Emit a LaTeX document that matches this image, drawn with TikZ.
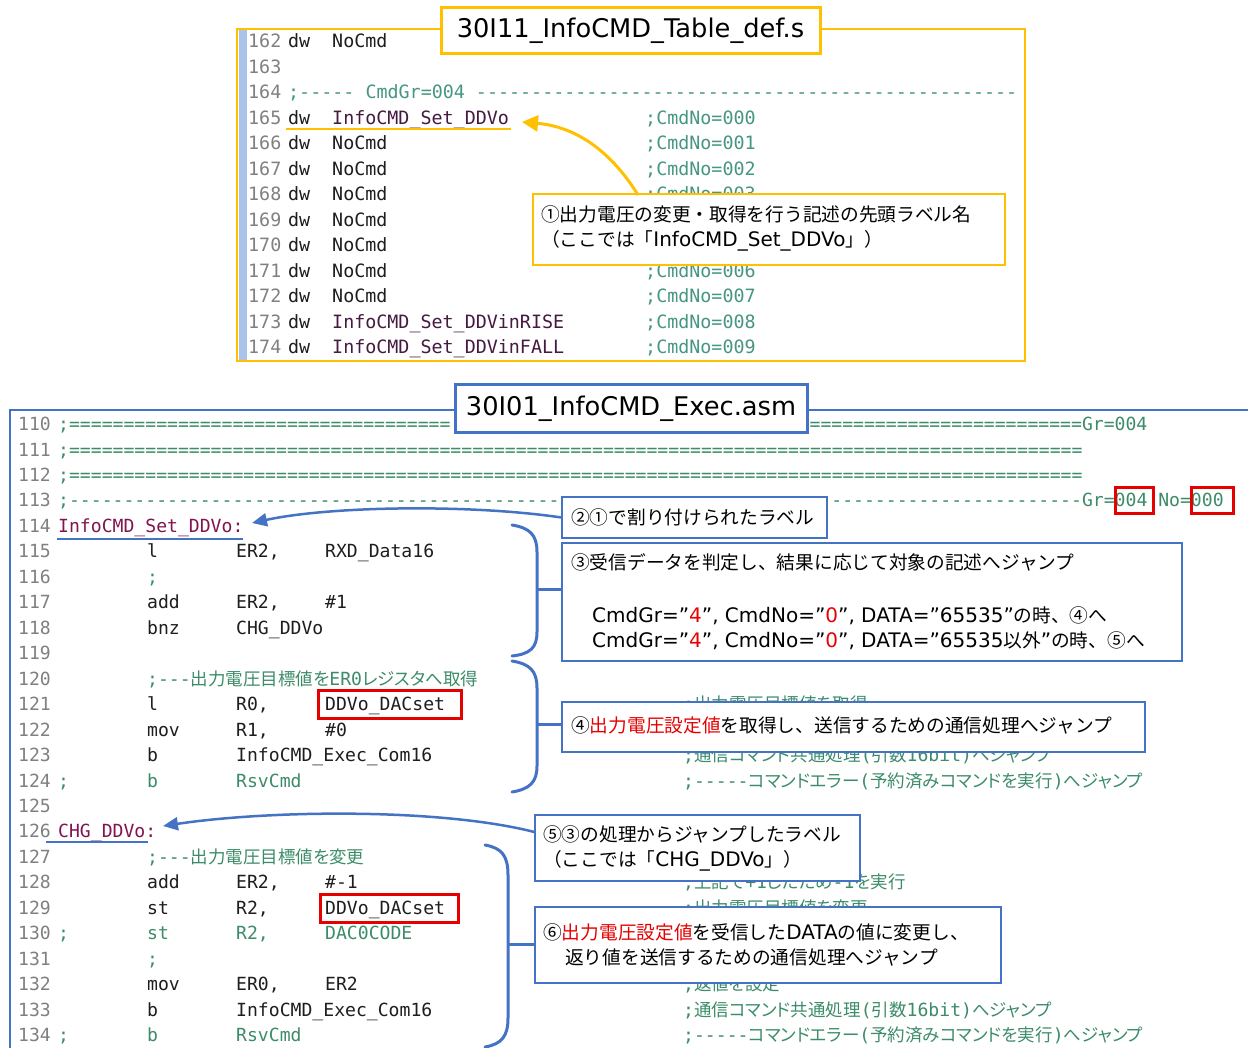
\documentclass[tikz,border=0pt]{standalone}
\usepackage{fontspec}
\setmainfont{DejaVu Sans}
\setmonofont{DejaVu Sans Mono}[Ligatures=TeXOff]
\newfontfamily\cjk{Noto Sans CJK JP}
\newfontfamily\cjkp{Noto Sans CJK JP}[RawFeature=+palt]
\newfontfamily\latf{DejaVu Sans}
\usetikzlibrary{arrows.meta}

\definecolor{orangeframe}{RGB}{255,192,0}
\definecolor{blueframe}{RGB}{68,114,196}
\definecolor{lnogray}{RGB}{128,128,128}
\definecolor{codeink}{RGB}{30,30,30}
\definecolor{cmtgreen}{RGB}{60,140,105}
\definecolor{cmtteal}{RGB}{70,150,130}
\definecolor{lblmaroon}{RGB}{130,20,80}
\definecolor{symbolpurple}{RGB}{70,25,65}
\definecolor{markred}{RGB}{230,0,0}
\definecolor{gutterblue}{RGB}{170,195,235}

% fonts for the two listings and the notes
\newcommand\topcode{\ttfamily\fontsize{18.35}{22}\selectfont}
\newcommand\botcode{\ttfamily\fontsize{18.1}{22}\selectfont}
\newcommand\cj[1]{{\cjkp\fontsize{17.5}{22}\selectfont #1}}
\newcommand\annfont{\cjk\fontsize{18.7}{24}\selectfont}
\newcommand\lt[1]{{\latf\fontsize{20}{24}\selectfont #1}}
\newcommand\ttl{\latf\fontsize{25.7}{30}\selectfont}

\ExplSyntaxOn
\cs_new:Npn \Rep #1#2 { \prg_replicate:nn {#1} {#2} }
\ExplSyntaxOff

% baselines of the listing rows
\newcommand\ty[1]{41+(#1-162)*25.5+6.7}
\newcommand\by[1]{424+(#1-110)*25.46+6.6}

\begin{document}
\begin{tikzpicture}[x=1pt,y=-1pt,
  tc/.style={anchor=base west,inner sep=0pt,font=\topcode,text=codeink},
  tn/.style={tc,text=lnogray},
  tk/.style={tc,text=cmtteal},
  ts/.style={tc,text=symbolpurple},
  bc/.style={anchor=base west,inner sep=0pt,font=\botcode,text=codeink},
  bn/.style={bc,text=lnogray},
  bk/.style={bc,text=cmtgreen},
  bl/.style={bc,text=lblmaroon},
  ann/.style={anchor=base west,inner sep=0pt,font=\annfont,text=black},
  obox/.style={draw=orangeframe,line width=1.2,fill=white,inner sep=0pt},
  bbox/.style={draw=blueframe,line width=1.2,fill=white,inner sep=0pt},
  otitle/.style={draw=orangeframe,line width=3,fill=white,inner sep=0pt,font=\ttl},
  btitle/.style={draw=blueframe,line width=3,fill=white,inner sep=0pt,font=\ttl},
  redbox/.style={draw=markred,line width=3,inner sep=0pt},
  brace/.style={draw=blueframe,line width=3,line cap=round},
  uline/.style={line width=2.6},
  barrow/.style={draw=blueframe,line width=2.5,-{Triangle[length=15pt,width=13pt]}},
  oarrow/.style={draw=orangeframe,line width=3,-{Triangle[length=16pt,width=16pt]}}]

\useasboundingbox (0,0) rectangle (1248,1048);
\fill[white] (0,0) rectangle (1248,1048);

% ---------------- table listing ----------------
\fill[gutterblue] (239,30) rectangle (247,360);
\draw[orangeframe,line width=2.5] (237,29) rectangle (1025,361);

\foreach \n in {162,...,174} \node[tn] (tn\n) at (248,{\ty{\n}}) {\n};
\node[tc] (ta162) at (288,{\ty{162}}) {dw};
\node[tc] (tb162) at (332,{\ty{162}}) {NoCmd};
\node[tk] (ta164) at (288,{\ty{164}}) {;----- CmdGr=004 \Rep{49}{-}};
\node[tc] (ta165) at (288,{\ty{165}}) {dw};
\node[ts] (tb165) at (332,{\ty{165}}) {InfoCMD\_Set\_DDVo};
\node[tk] (tc165) at (645,{\ty{165}}) {;CmdNo=000};
\foreach \n in {166,...,172} {
  \node[tc] (ta\n) at (288,{\ty{\n}}) {dw};
  \node[tc] (tb\n) at (332,{\ty{\n}}) {NoCmd};
}
% comments of the rows beside note 1 (only the uncovered ones)
\foreach \n [evaluate=\n as \k using int(\n-165)] in {166,167,168,171,172}
  \node[tk] (tc\n) at (645,{\ty{\n}}) {;CmdNo=00\k};
\node[tc] (ta173) at (288,{\ty{173}}) {dw};
\node[ts] (tb173) at (332,{\ty{173}}) {InfoCMD\_Set\_DDVinRISE};
\node[tk] (tc173) at (645,{\ty{173}}) {;CmdNo=008};
\node[tc] (ta174) at (288,{\ty{174}}) {dw};
\node[ts] (tb174) at (332,{\ty{174}}) {InfoCMD\_Set\_DDVinFALL};
\node[tk] (tc174) at (645,{\ty{174}}) {;CmdNo=009};

% label entry of the table
\coordinate (ul1a) at (286,129);
\coordinate (ul1b) at (511,129);
\draw[orangeframe,uline] (ul1a) -- (ul1b);

% note 1 and its arrow
\node[obox,minimum width=472,minimum height=71] (c1) at (769,229.5) {};
\coordinate (c1tail) at (638,195);
\coordinate (c1tip) at (522,122);
\draw[oarrow] (c1tail) .. controls (614,156) and (580,127) .. (c1tip);
\node[ann] (c1l1) at (541,222) {①出力電圧の変更・取得を行う記述の先頭ラベル名};
\node[ann] (c1l2) at (541,247) {（ここでは「\lt{InfoCMD\_Set\_DDVo}」）};

\node[otitle,minimum width=379,minimum height=46] (ttl1) at (630.5,31) {30I11\_InfoCMD\_Table\_def.s};

% ---------------- exec listing ----------------
\foreach \n in {110,...,134} \node[bn] (bn\n) at (18,{\by{\n}}) {\n};
\node[bk] (bx110) at (58,{\by{110}}) {;\Rep{35}{=}};
\node[bk] (by110) at (809.4,{\by{110}}) {\Rep{25}{=}Gr=004};
\node[bk] (bx111) at (58,{\by{111}}) {;\Rep{93}{=}};
\node[bk] (bx112) at (58,{\by{112}}) {;\Rep{93}{=}};
\node[bk] (bx113) at (58,{\by{113}}) {;\Rep{45}{-}};
\node[bk] (by113) at (831.2,{\by{113}}) {\Rep{23}{-}Gr=004 No=000};
\node[bl] (lab1) at (58,{\by{114}}) {InfoCMD\_Set\_DDVo:};
\node[bc] (bm115) at (147,{\by{115}}) {l};
\node[bc] (bp115) at (236,{\by{115}}) {ER2,};
\node[bc] (bq115) at (325,{\by{115}}) {RXD\_Data16};
\node[bk] (bm116) at (147,{\by{116}}) {;};
\node[bc] (bm117) at (147,{\by{117}}) {add};
\node[bc] (bp117) at (236,{\by{117}}) {ER2,};
\node[bc] (bq117) at (325,{\by{117}}) {\#1};
\node[bc] (bm118) at (147,{\by{118}}) {bnz};
\node[bc] (bp118) at (236,{\by{118}}) {CHG\_DDVo};
\node[bk] (bm120) at (147,{\by{120}}) {;---\cj{出力電圧目標値を}ER0\cj{レジスタへ取得}};
\node[bc] (bm121) at (147,{\by{121}}) {l};
\node[bc] (bp121) at (236,{\by{121}}) {R0,};
\node[bc] (bq121) at (325,{\by{121}}) {DDVo\_DACset};
\node[bk] (br121) at (683,{\by{121}}) {;\cj{出力電圧目標値を取得}};
\node[bc] (bm122) at (147,{\by{122}}) {mov};
\node[bc] (bp122) at (236,{\by{122}}) {R1,};
\node[bc] (bq122) at (325,{\by{122}}) {\#0};
\node[bc] (bm123) at (147,{\by{123}}) {b};
\node[bc] (bp123) at (236,{\by{123}}) {InfoCMD\_Exec\_Com16};
\node[bk] (br123) at (683,{\by{123}}) {;\cj{通信コマンド共通処理}(\cj{引数}16bit)\cj{へジャンプ}};
\node[bk] (bs124) at (58,{\by{124}}) {;};
\node[bk] (bm124) at (147,{\by{124}}) {b};
\node[bk] (bp124) at (236,{\by{124}}) {RsvCmd};
\node[bk] (br124) at (683,{\by{124}}) {;-----\cj{コマンドエラー}(\cj{予約済みコマンドを実行})\cj{へジャンプ}};
\node[bl] (lab2) at (58,{\by{126}}) {CHG\_DDVo:};
\node[bk] (bm127) at (147,{\by{127}}) {;---\cj{出力電圧目標値を変更}};
\node[bc] (bm128) at (147,{\by{128}}) {add};
\node[bc] (bp128) at (236,{\by{128}}) {ER2,};
\node[bc] (bq128) at (325,{\by{128}}) {\#-1};
\node[bk] (br128) at (683,{\by{128}}) {;\cj{上記で}+1\cj{したため}-1\cj{を実行}};
\node[bc] (bm129) at (147,{\by{129}}) {st};
\node[bc] (bp129) at (236,{\by{129}}) {R2,};
\node[bc] (bq129) at (325,{\by{129}}) {DDVo\_DACset};
\node[bk] (br129) at (683,{\by{129}}) {;\cj{出力電圧目標値を変更}};
\node[bk] (bs130) at (58,{\by{130}}) {;};
\node[bk] (bm130) at (147,{\by{130}}) {st};
\node[bk] (bp130) at (236,{\by{130}}) {R2,};
\node[bk] (bq130) at (325,{\by{130}}) {DAC0CODE};
\node[bk] (bm131) at (147,{\by{131}}) {;};
\node[bc] (bm132) at (147,{\by{132}}) {mov};
\node[bc] (bp132) at (236,{\by{132}}) {ER0,};
\node[bc] (bq132) at (325,{\by{132}}) {ER2};
\node[bk] (br132) at (683,{\by{132}}) {;\cj{返値を設定}};
\node[bc] (bm133) at (147,{\by{133}}) {b};
\node[bc] (bp133) at (236,{\by{133}}) {InfoCMD\_Exec\_Com16};
\node[bk] (br133) at (683,{\by{133}}) {;\cj{通信コマンド共通処理}(\cj{引数}16bit)\cj{へジャンプ}};
\node[bk] (bs134) at (58,{\by{134}}) {;};
\node[bk] (bm134) at (147,{\by{134}}) {b};
\node[bk] (bp134) at (236,{\by{134}}) {RsvCmd};
\node[bk] (br134) at (683,{\by{134}}) {;-----\cj{コマンドエラー}(\cj{予約済みコマンドを実行})\cj{へジャンプ}};

% frame of the exec listing
\draw[blueframe,line width=2.5] (10,1049) -- (10,410) -- (1249,410);

% highlighted fields
\node[redbox,minimum width=38,minimum height=26] (rb1) at (1134,500) {};
\node[redbox,minimum width=42,minimum height=26] (rb2) at (1212,500) {};
\node[redbox,minimum width=143,minimum height=28] (rb3) at (389.5,704) {};
\node[redbox,minimum width=138,minimum height=28] (rb4) at (389,908) {};

% label underlines
\coordinate (ul2a) at (57,539);
\coordinate (ul2b) at (243,539);
\draw[blueframe,uline] (ul2a) -- (ul2b);
\coordinate (ul3a) at (46,842);
\coordinate (ul3b) at (148,842);
\draw[blueframe,uline] (ul3a) -- (ul3b);

% braces grouping the code blocks
\draw[brace] (512,525) .. controls (530,528) and (537,535) .. (537,552) -- (537,632)
  .. controls (537,648) and (530,654) .. (512,656);
\draw[brace] (512,661) .. controls (530,664) and (537,671) .. (537,688) -- (537,766)
  .. controls (537,782) and (530,789) .. (512,792);
\draw[brace] (485,845) .. controls (502,848) and (508,856) .. (508,875) -- (508,1018)
  .. controls (508,1036) and (502,1044) .. (485,1047);

% notes of the exec listing
\node[bbox,minimum width=265,minimum height=41] (a2) at (694.5,517.5) {};
\node[bbox,minimum width=620,minimum height=118] (a3) at (872,602) {};
\node[bbox,minimum width=583,minimum height=50] (a4) at (853.5,727) {};
\node[bbox,minimum width=325,minimum height=66] (a5) at (697.5,848) {};
\node[bbox,minimum width=466,minimum height=76] (a6) at (768,945) {};

\coordinate (sp1) at (537,589);
\coordinate (sp2) at (537,724);
\coordinate (sp3) at (508,944);
\draw[brace,line cap=butt] (sp1) -- (sp1 -| a3.west);
\draw[brace,line cap=butt] (sp2) -- (sp2 -| a4.west);
\draw[brace,line cap=butt] (sp3) -- (sp3 -| a6.west);

\coordinate (tip2) at (252,523);
\coordinate (tip5) at (163,826);
\draw[barrow] (a2.west) .. controls (470,504) and (330,506) .. (tip2);
\draw[barrow] ([yshift=16pt]a5.west) .. controls (440,808) and (270,810) .. (tip5);

\node[ann] (a2l1) at (571,524) {②①で割り付けられたラベル};
\node[ann] (a3l1) at (571,569) {③受信データを判定し、結果に応じて対象の記述へジャンプ};
\node[ann] (a3l2) at (592,622) {\lt{CmdGr=”\textcolor{markred}{4}”, CmdNo=”\textcolor{markred}{0}”, DATA=”65535”}の時、④へ};
\node[ann] (a3l3) at (592,647) {\lt{CmdGr=”\textcolor{markred}{4}”, CmdNo=”\textcolor{markred}{0}”, DATA=”65535}以外\lt{”}の時、⑤へ};
\node[ann] (a4l1) at (571,732) {④\textcolor{markred}{出力電圧設定値}を取得し、送信するための通信処理へジャンプ};
\node[ann] (a5l1) at (543,841) {⑤③の処理からジャンプしたラベル};
\node[ann] (a5l2) at (543,866) {（ここでは「\lt{CHG\_DDVo}」）};
\node[ann] (a6l1) at (543,939) {⑥\textcolor{markred}{出力電圧設定値}を受信した\lt{DATA}の値に変更し、};
\node[ann] (a6l2) at (565,964) {返り値を送信するための通信処理へジャンプ};

\node[btitle,minimum width=352,minimum height=48] (ttl2) at (631,409) {30I01\_InfoCMD\_Exec.asm};
\end{tikzpicture}
\end{document}
